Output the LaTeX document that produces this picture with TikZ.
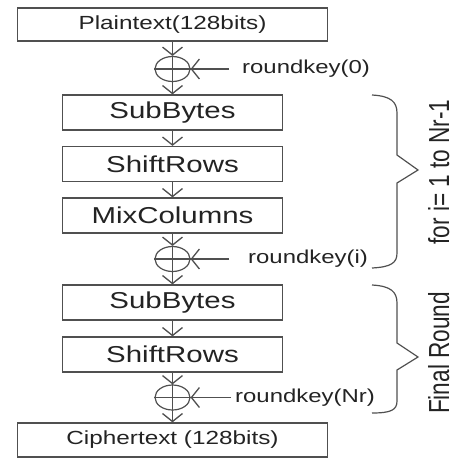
\documentclass[tikz,border=0pt]{standalone}
\usepackage{fontspec}
\setmainfont[FakeStretch=1.28]{Liberation Sans}
\newfontfamily\sidefont[FakeStretch=0.78]{Liberation Sans}
\usetikzlibrary{arrows.meta, shapes.geometric}
\definecolor{lineGray}{RGB}{80, 80, 80}
\definecolor{textDark}{RGB}{35, 35, 35}

\begin{document}
\begin{tikzpicture}[x=1pt, y=-1pt,
  arrow/.style={-{Straight Barb[length=8pt, width=20pt, line width=1.3pt]}, line width=1.2pt, draw=lineGray},
  stepbox/.style={draw=lineGray, line width=1.3pt, minimum width=220pt, minimum height=35pt, inner sep=0pt, font=\fontsize{23}{26}\selectfont, text=textDark},
  widebox/.style={draw=lineGray, line width=1.3pt, minimum width=310pt, minimum height=33pt, inner sep=0pt, font=\fontsize{19}{22}\selectfont, text=textDark},
  xorop/.style={ellipse, draw=lineGray, line width=1.2pt, minimum width=35pt, minimum height=25pt, inner sep=0pt},
  keylabel/.style={anchor=west, inner sep=0pt, font=\fontsize{18.7}{22}\selectfont, text=textDark},
  bracket/.style={draw=lineGray, line width=1.2pt, line join=miter},
  sidelabel/.style={rotate=90, anchor=base, inner sep=0pt, font=\sidefont\fontsize{29}{30}\selectfont, text=textDark},
]
\useasboundingbox (0,0) rectangle (456,459);

% Input and initial key
\node[widebox] (plain) at (172.5, 24.5) {Plaintext(128bits)};
\node[xorop] (x0) at (172.5, 69) {};
\node[keylabel] (rk0) at (242, 69) {roundkey(0)};
\coordinate (k0) at (229, 69);

% Rounds 1 .. Nr-1
\node[stepbox] (sub1) at (172.5, 112.5) {SubBytes};
\node[stepbox] (shift1) at (172.5, 164) {ShiftRows};
\node[stepbox] (mix) at (172.5, 215.5) {MixColumns};
\node[xorop] (x1) at (172.5, 259) {};
\node[keylabel] (rki) at (248, 259) {roundkey(i)};
\coordinate (ki) at (229, 259);

% Final round
\node[stepbox] (sub2) at (172.5, 302.5) {SubBytes};
\node[stepbox] (shift2) at (172.5, 354.5) {ShiftRows};
\node[xorop] (x2) at (172.5, 397.5) {};
\node[keylabel] (rkN) at (235, 397.5) {roundkey(Nr)};
\coordinate (kN) at (231, 397.5);
\node[widebox, minimum height=34pt] (cipher) at (172.5, 440) {Ciphertext (128bits)};

% XOR crosses
\foreach \x in {x0, x1, x2} {
  \draw[lineGray, line width=1.1pt] (\x.north) -- (\x.south);
  \draw[lineGray, line width=1.1pt] (\x.west) -- (\x.east);
}

% Data path
\draw[arrow] (plain) -- (x0);
\draw[arrow] (x0) -- (sub1);
\draw[arrow] (sub1) -- (shift1);
\draw[arrow] (shift1) -- (mix);
\draw[arrow] (mix) -- (x1);
\draw[arrow] (x1) -- (sub2);
\draw[arrow] (sub2) -- (shift2);
\draw[arrow] (shift2) -- (x2);
\draw[arrow] (x2) -- (cipher);

% Key inputs
\draw[arrow] (k0) -- (x0.east);
\draw[arrow] (ki) -- (x1.east);
\draw[arrow] (kN) -- (x2.east);

% Braces
\draw[bracket] (372,95) .. controls (391,96) and (397,102) .. (397,113) -- (397,155) -- (418,170) -- (397,183) -- (397,253) .. controls (397,263) and (391,267) .. (372,268);
\draw[bracket] (372,285) .. controls (391,286) and (397,292) .. (397,303) -- (397,343) -- (418,357) -- (397,370) -- (397,401) .. controls (397,410) and (391,413) .. (372,413);
\node[sidelabel] (loopLbl) at (449, 172) {for i= 1 to Nr-1};
\node[sidelabel] (finalLbl) at (449, 353) {Final Round};
\end{tikzpicture}
\end{document}
